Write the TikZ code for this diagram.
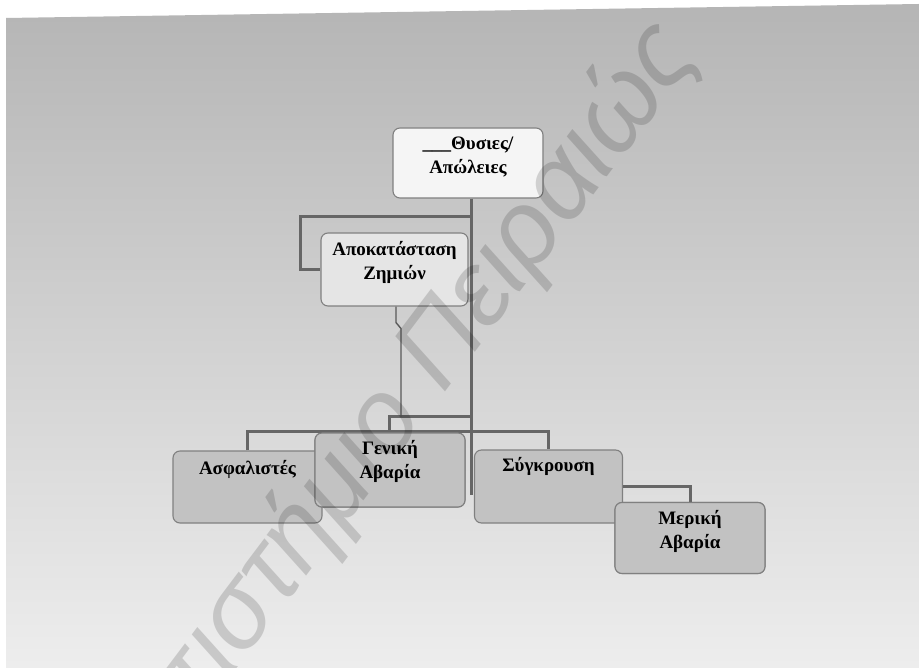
\documentclass[tikz,border=0pt]{standalone}
\usepackage{fontspec}
\setmainfont{Liberation Serif}
\newfontfamily\wmfont{Liberation Sans}

\begin{document}
\begin{tikzpicture}[
  x=1pt,y=-1pt,
  box/.style={draw=black!50,line width=1.1pt,rounded corners=7pt,inner sep=0pt},
  topbox/.style={box,fill=black!4},
  midbox/.style={box,fill=black!10},
  lowbox/.style={box,fill=black!24},
  btext/.style={font=\bfseries\fontsize{19}{24}\selectfont,align=center,inner sep=0pt},
  link/.style={draw=black!60,line width=3pt},
  thinlink/.style={draw=black!65,line width=1.4pt}
]
  \useasboundingbox (0,0) rectangle (919,668);
  % paper and grey backdrop
  \fill[white] (0,0) rectangle (919,668);
  \shade[top color=black!29,middle color=black!13,bottom color=black!7]
    (6,18) -- (919,4) -- (919,668) -- (6,668) -- cycle;

  % boxes
  \node[topbox,minimum width=150pt,minimum height=70pt] (thysies) at (468,163) {};
  \node[midbox,minimum width=147pt,minimum height=73pt] (apok) at (394.5,269.5) {};
  \coordinate (j1) at (471,217);
  \coordinate (j2) at (471,432);
  \coordinate (j3) at (471,417);
  \coordinate (j4) at (389,432);
  \coordinate (bot) at (471,495);

  % connectors
  \draw[link] (thysies.south -| bot) -- (bot);
  \draw[link] (j1) -| ([xshift=-20pt]apok.west) -- (apok.west);
  \draw[link] (j3) -| (j4);
  \draw[thinlink] ([xshift=1.5pt]apok.south) -- ++(0,16) -- ++(5,6)
    coordinate (zig) -- (zig |- j3);

  \node[lowbox,minimum width=149pt,minimum height=72pt] (asfal) at (247.5,487) {};
  \node[lowbox,minimum width=150pt,minimum height=74pt] (geniki) at (390,470) {};
  \node[lowbox,minimum width=148pt,minimum height=73pt] (sygk) at (548.5,486.5) {};
  \node[lowbox,minimum width=150pt,minimum height=71pt] (meriki) at (690,538) {};
  \draw[link] (asfal.north) |- (j2) -| (sygk.north);
  \draw[link] (sygk.east) -| (meriki.north);
  \node[lowbox,minimum width=150pt,minimum height=74pt] at (geniki) {};
  \node[lowbox,minimum width=150pt,minimum height=71pt] at (meriki) {};

  % labels
  \node[btext,below=9pt] (thysiesT) at (thysies.north) {\_\_\_Θυσιες/\\Απώλειες};
  \node[btext,below=9pt] (apokT) at (apok.north) {Αποκατάσταση\\Ζημιών};
  \node[btext,below=10pt] (asfalT) at (asfal.north) {Ασφαλιστές};
  \node[btext,below=8pt] (genikiT) at (geniki.north) {Γενική\\Αβαρία};
  \node[btext,below=8pt] (sygkT) at (sygk.north) {Σύγκρουση};
  \node[btext,below=8pt] (merikiT) at (meriki.north) {Μερική\\Αβαρία};

  % library watermark
  \begin{scope}
    \clip (0,0) rectangle (919,668);
    \node[font=\wmfont\itshape\fontsize{106}{106}\selectfont,text=black,
      opacity=.15,rotate=53,anchor=base east,inner sep=0pt] (wm)
      at (700,54) {Πανεπιστήμιο Πειραιώς};
  \end{scope}
\end{tikzpicture}
\end{document}
